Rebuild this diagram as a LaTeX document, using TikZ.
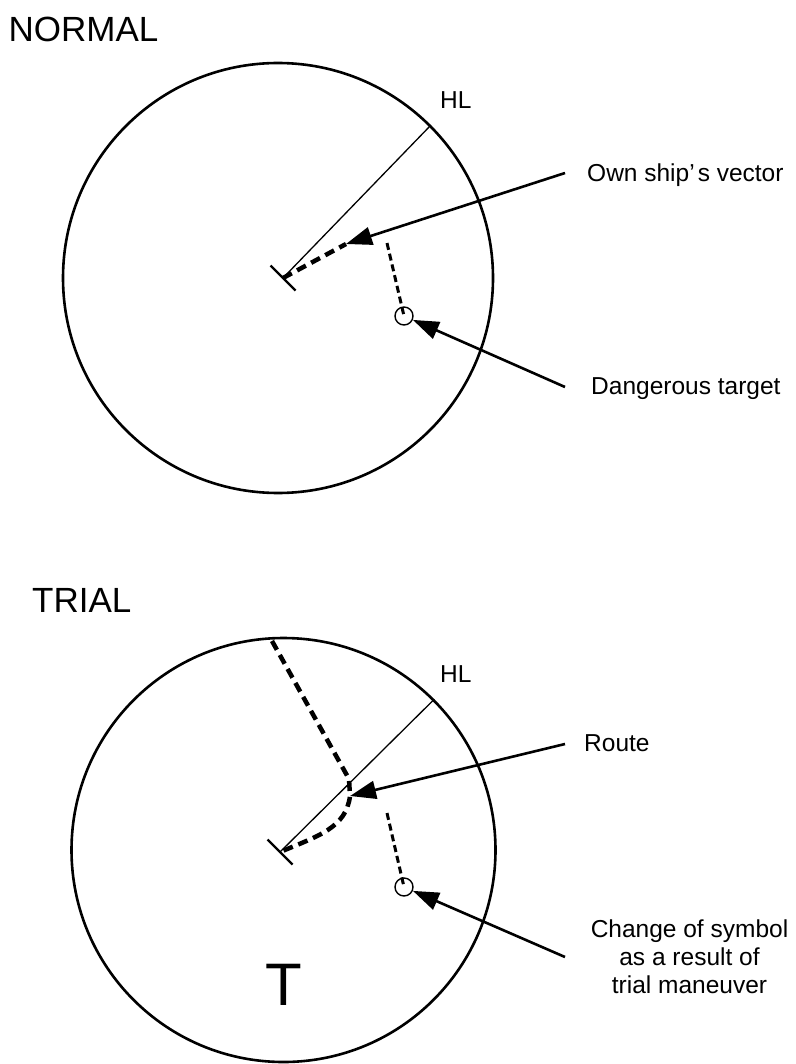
\documentclass[tikz,border=0pt]{standalone}
\usepackage{fontspec}
\setmainfont{Liberation Sans}
\usetikzlibrary{arrows.meta}
\begin{document}
\begin{tikzpicture}[x=1pt,y=-1pt,
  radar/.style={circle,draw,line width=2.6pt,minimum size=#1,inner sep=0pt},
  hl/.style={line width=1.3pt},
  bar/.style={line width=2.2pt},
  vec/.style={line width=4.5pt,dash pattern=on 10pt off 6pt},
  tdash/.style={line width=3pt,dash pattern=on 7pt off 4pt},
  tgt/.style={circle,draw,line width=1.4pt,minimum size=18pt,inner sep=0pt},
  ptr/.style={line width=2.6pt,-{Triangle[length=26pt,width=18pt]}},
  lbl/.style={font=\fontsize{24.5}{28}\selectfont,inner sep=0pt},
  ttl/.style={font=\fontsize{35}{40}\selectfont,inner sep=0pt,anchor=base west}]
\useasboundingbox (0,0) rectangle (795,1064);

% ---------- NORMAL ----------
\node[ttl] (normal) at (8.5,42) {NORMAL};
\node[radar=430pt] (c1) at (278,278) {};
\coordinate (s1) at (283,278);
\draw[hl] (s1) -- (c1.45);
\draw[bar] (s1) ++(-12.5,-12.5) -- ++(25,25);
\node[lbl,anchor=base west] (hl1) at (440,109) {HL};
\coordinate (v1) at (346,244);
\draw[vec] (s1) -- (v1);
\node[lbl,anchor=base west] (ov) at (587,181.5) {Own ship’\hspace{3pt}s vector};
\coordinate (ov0) at (565,173);
\draw[ptr] (ov0) -- (v1);
\node[tgt] (t1) at (404,316) {};
\coordinate (d1) at (387,243);
\draw[tdash] (d1) -- (t1.center);
\node[lbl,anchor=base west] (dt) at (591,394) {Dangerous target};
\coordinate (dt0) at (565,387);
\draw[ptr] (dt0) -- (t1);

% ---------- TRIAL ----------
\node[ttl] (trial) at (32,612) {TRIAL};
\node[radar=424pt] (c2) at (283.5,850) {};
\coordinate (s2) at (280,852);
\draw[hl] (s2) -- (c2.45);
\draw[bar] (s2) ++(-12.5,-12.5) -- ++(25,25);
\node[lbl,anchor=base west] (hl2) at (440,682) {HL};
\coordinate (r0) at (272,641);
\coordinate (r1) at (349,779);
\coordinate (r2) at (350,796);
\draw[vec] (r0) -- (r1) -- (r2) .. controls (346,828) and (318,836) .. (s2);
\node[lbl,anchor=base west] (route) at (584,751) {Route};
\coordinate (rt0) at (565,744);
\draw[ptr] (rt0) -- (r2);
\node[tgt] (t2) at (404,887) {};
\coordinate (d2) at (387,813);
\draw[tdash] (d2) -- (t2.center);
\node[lbl,align=center,anchor=base] (chg) at (689.5,993) {Change of symbol\\as a result of\\trial maneuver};
\coordinate (ch0) at (565,957);
\draw[ptr] (ch0) -- (t2);
\node[font=\fontsize{60}{60}\selectfont,inner sep=0pt,anchor=base] (tmark) at (284,1005) {T};
\end{tikzpicture}
\end{document}
